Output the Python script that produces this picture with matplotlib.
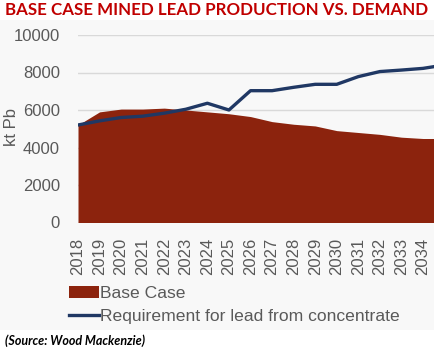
import matplotlib
matplotlib.use("Agg")
import matplotlib.pyplot as plt
from matplotlib.patches import Rectangle, Patch
from matplotlib.lines import Line2D

years = list(range(2018, 2036))
base_case = [5200, 5900, 6050, 6050, 6100, 6000, 5900, 5800, 5650, 5380,
             5240, 5150, 4900, 4800, 4700, 4550, 4480, 4480]
requirement = [5200, 5420, 5600, 5670, 5830, 6040, 6360, 6000, 7030, 7030,
               7210, 7370, 7370, 7780, 8050, 8130, 8220, 8400]
tick_years = list(range(2018, 2035))
yticks = [0, 2000, 4000, 6000, 8000, 10000]

title = "BASE CASE MINED LEAD PRODUCTION VS. DEMAND"
ylabel = "kt Pb"
source = "(Source: Wood Mackenzie)"

plt.rcParams['font.family'] = ['Liberation Sans', 'DejaVu Sans']

W, H = 435, 353
fig = plt.figure(figsize=(W / 100, H / 100), dpi=100)
fig.patch.set_facecolor('white')
fig.add_artist(Rectangle((0, (H - 330) / H), 1, (330 - 20) / H,
                         transform=fig.transFigure, facecolor='#f8f8f8',
                         edgecolor='none', zorder=-10))

ax = fig.add_axes([78 / W, (H - 222.5) / H, 1 - 78 / W, (222.5 - 35) / H])
ax.set_facecolor('none')
area_color = '#8c230d'
line_color = '#203864'
ax.fill_between(years, 0, base_case, color=area_color, linewidth=0, zorder=2)
ax.plot(years, requirement, color=line_color, linewidth=2.4, zorder=3,
        solid_joinstyle='round')
ax.set_xlim(2018, 2034 + 12 / 21.56)
ax.set_ylim(0, 10000)
ax.set_yticks(yticks)
ax.set_yticklabels([str(v) for v in yticks])
ax.set_xticks(tick_years)
ax.set_xticklabels([str(y) for y in tick_years], rotation=90)
ax.grid(axis='y', color='#d9d9d9', linewidth=1, zorder=0)
ax.set_axisbelow(True)
for s in ax.spines.values():
    s.set_visible(False)
ax.tick_params(axis='both', length=0, labelsize=12, labelcolor='#595959')
ax.tick_params(axis='y', pad=13)
ax.tick_params(axis='x', pad=11)
ax.set_ylabel(ylabel, fontsize=12, color='#595959', labelpad=0)
ax.yaxis.set_label_coords(-(78 - 19) / (W - 78), (222.5 - 127) / (222.5 - 35))

fig.text(5 / W, 1 - 10 / H, title, fontsize=12.2, fontweight='bold',
         color='#c00000', ha='left', va='center', family=['Lato', 'DejaVu Sans'])

handles = [Patch(facecolor=area_color, edgecolor='none', label='Base Case'),
           Line2D([0], [0], color=line_color, linewidth=2.4,
                  label='Requirement for lead from concentrate')]
leg = fig.legend(handles=handles, loc='upper left',
                 bbox_to_anchor=(60 / W, 1 - 277 / H), frameon=False,
                 fontsize=12.6, labelcolor='#595959', handlelength=1.7,
                 handletextpad=0.1, labelspacing=0.45, borderpad=0)

fig.text(5 / W, 1 - 341 / H, source, fontsize=9.0, fontweight='bold',
         fontstyle='italic', color='black', ha='left', va='center',
         family=['Lato', 'DejaVu Sans'])

fig.savefig('out.png', dpi=100)
